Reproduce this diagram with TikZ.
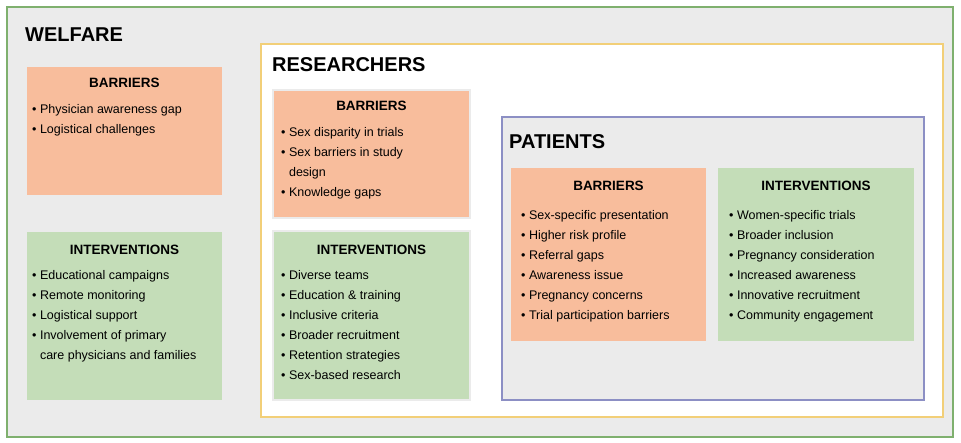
\documentclass[tikz,border=0pt]{standalone}
\usepackage{fontspec}
\setmainfont{Liberation Sans}
\definecolor{bggray}{HTML}{EBEBEB}
\definecolor{outgreen}{HTML}{7FB06E}
\definecolor{resyel}{HTML}{F2CF78}
\definecolor{patblue}{HTML}{8C8FC4}
\definecolor{barfill}{HTML}{F8BD9C}
\definecolor{intfill}{HTML}{C4DDB8}
\tikzset{
  head/.style={anchor=north, font=\fontsize{13.5}{15}\selectfont\bfseries},
  items/.style={anchor=north west, align=left, font=\fontsize{12.5}{20}\selectfont, inner sep=0pt},
  title/.style={anchor=west, font=\fontsize{20}{24}\selectfont\bfseries, inner sep=0pt}
}
\newcommand{\bx}{\textbullet\ }
\begin{document}
\begin{tikzpicture}[x=1pt,y=-1pt]
\useasboundingbox (0,0) rectangle (961,443);
\draw[draw=outgreen, fill=bggray, line width=1.2pt] (7,7) rectangle (953,437);
\node[title] (wt) at (25,35) {WELFARE};
% Welfare
\draw[fill=barfill, draw=none] (27,67) rectangle (222,195);
\node[head] (wbh) at (124.5,75) {BARRIERS};
\node[items] (wbi) at (32,104) {\bx Physician awareness gap\\ \bx Logistical challenges};
\draw[fill=intfill, draw=none] (27,232) rectangle (222,400);
\node[head] (wih) at (124.5,242) {INTERVENTIONS};
\node[items] (wii) at (32,270) {\bx Educational campaigns\\ \bx Remote monitoring\\ \bx Logistical support\\ \bx Involvement of primary\\ \phantom{\bx}care physicians and families};
% Researchers
\draw[draw=resyel, fill=white, line width=1.2pt] (261,44) rectangle (943,417);
\node[title] (rt) at (272,65) {RESEARCHERS};
\draw[fill=barfill, draw=bggray, line width=1.5pt] (273,90) rectangle (470,218);
\node[head] (rbh) at (371.5,98) {BARRIERS};
\node[items] (rbi) at (281,127) {\bx Sex disparity in trials\\ \bx Sex barriers in study\\ \phantom{\bx}design\\ \bx Knowledge gaps};
\draw[fill=intfill, draw=bggray, line width=1.5pt] (273,231) rectangle (470,400);
\node[head] (rih) at (371.5,242) {INTERVENTIONS};
\node[items] (rii) at (281,270) {\bx Diverse teams\\ \bx Education \& training\\ \bx Inclusive criteria\\ \bx Broader recruitment\\ \bx Retention strategies\\ \bx Sex-based research};
% Patients
\draw[draw=patblue, fill=bggray, line width=1.2pt] (502,117) rectangle (924,400);
\node[title] (pt) at (509,142) {PATIENTS};
\draw[fill=barfill, draw=none] (511,168) rectangle (706,341);
\node[head] (pbh) at (608.5,178) {BARRIERS};
\node[items] (pbi) at (521,210) {\bx Sex-specific presentation\\ \bx Higher risk profile\\ \bx Referral gaps\\ \bx Awareness issue\\ \bx Pregnancy concerns\\ \bx Trial participation barriers};
\draw[fill=intfill, draw=none] (718,168) rectangle (914,341);
\node[head] (pih) at (816,178) {INTERVENTIONS};
\node[items] (pii) at (729,210) {\bx Women-specific trials\\ \bx Broader inclusion\\ \bx Pregnancy consideration\\ \bx Increased awareness\\ \bx Innovative recruitment\\ \bx Community engagement};
\end{tikzpicture}
\end{document}
